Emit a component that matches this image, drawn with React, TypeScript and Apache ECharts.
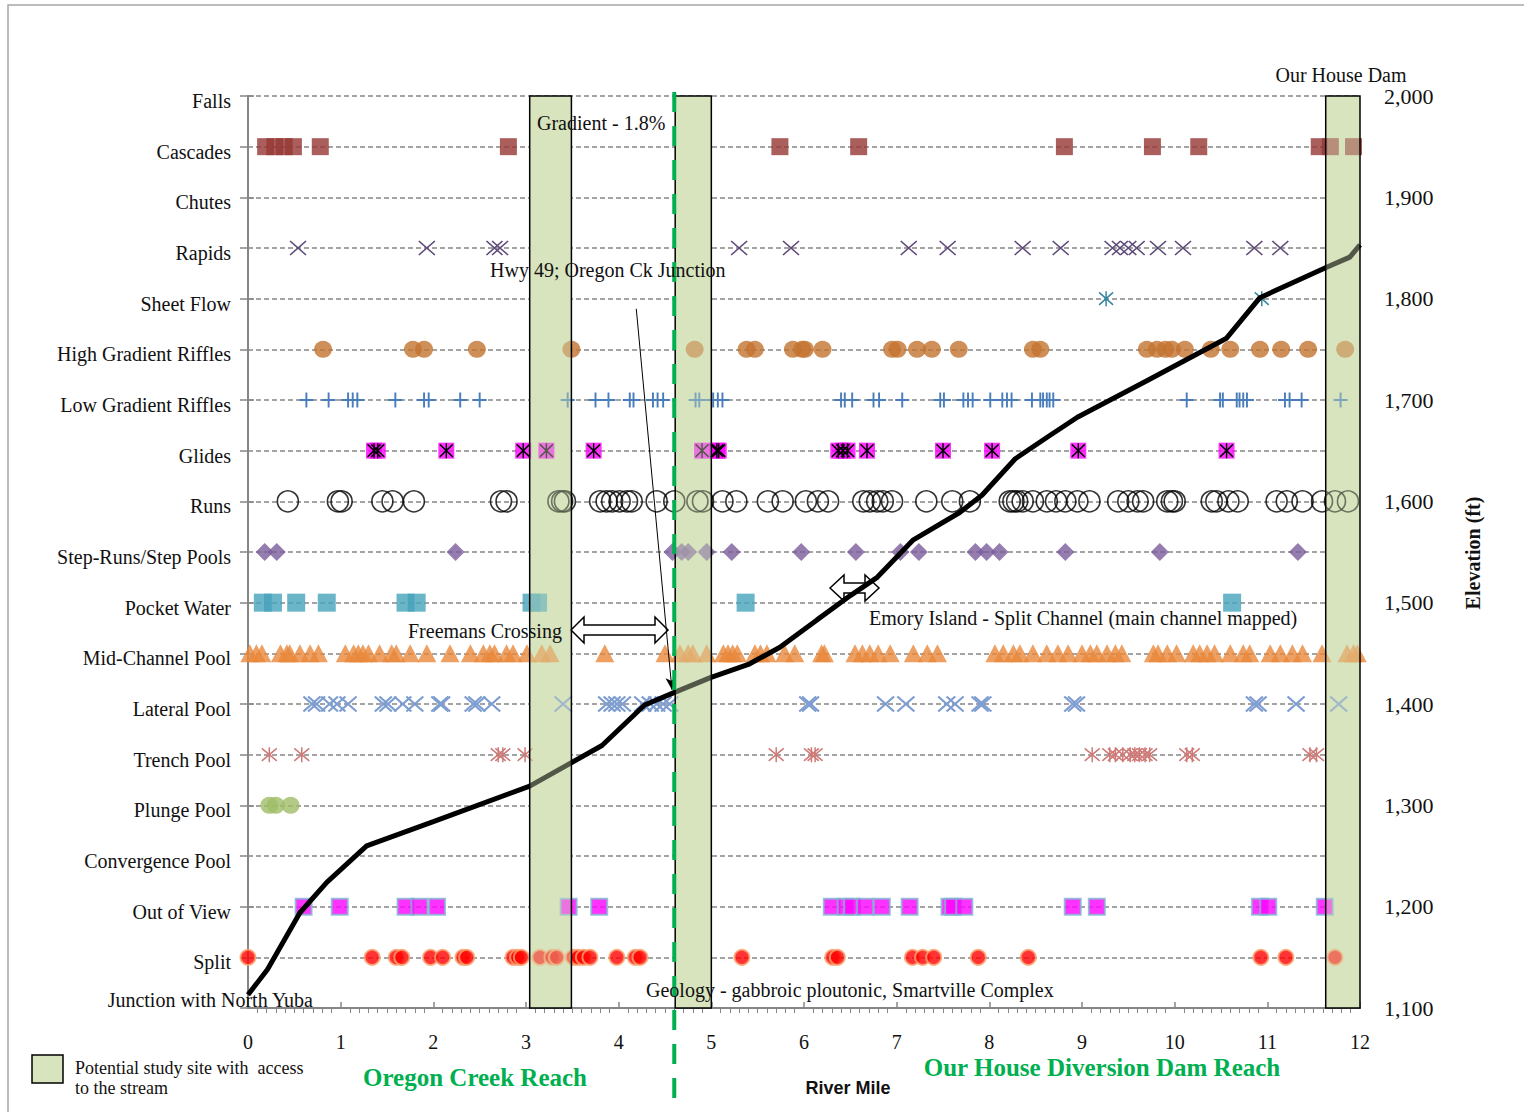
import React, { useEffect, useRef } from 'react';
import * as echarts from 'echarts';

// ---------- data ----------
const habitatTypes = [
  'Falls', 'Cascades', 'Chutes', 'Rapids', 'Sheet Flow', 'High Gradient Riffles',
  'Low Gradient Riffles', 'Glides', 'Runs', 'Step-Runs/Step Pools', 'Pocket Water',
  'Mid-Channel Pool', 'Lateral Pool', 'Trench Pool', 'Plunge Pool', 'Convergence Pool',
  'Out of View', 'Split',
];
const habitatElev = [2000, 1950, 1900, 1850, 1800, 1750, 1700, 1650, 1600, 1550, 1500, 1450, 1400, 1350, 1300, 1250, 1200, 1150];
const levelOf = (name: string) => habitatElev[habitatTypes.indexOf(name)];

const cascades = [0.19, 0.29, 0.39, 0.49, 0.78, 2.81, 5.74, 6.59, 8.81, 9.76, 10.26, 11.56, 11.68, 11.93];
const rapids = [0.54, 1.93, 2.66, 2.72, 5.30, 5.86, 7.13, 7.55, 8.36, 8.77, 9.33, 9.41, 9.50, 9.59, 9.82, 10.09, 10.86, 11.14];
const sheetFlow = [9.26, 10.94];
const highGradientRiffles = [0.81, 1.78, 1.90, 2.47, 3.49, 4.82, 5.38, 5.47, 5.88, 5.98, 6.01, 6.20, 6.95, 7.01, 7.22, 7.38, 7.67, 8.47, 8.55, 9.70, 9.81, 9.90, 9.97, 10.11, 10.39, 10.60, 10.92, 11.15, 11.44, 11.84];
const lowGradientRiffles = [0.63, 0.87, 1.08, 1.13, 1.18, 1.59, 1.90, 1.95, 2.29, 2.50, 3.45, 3.75, 3.89, 4.12, 4.16, 4.37, 4.42, 4.48, 4.83, 4.87, 5.02, 5.07, 5.12, 6.40, 6.44, 6.52, 6.75, 6.81, 7.06, 7.47, 7.51, 7.72, 7.77, 7.82, 8.01, 8.14, 8.19, 8.24, 8.46, 8.55, 8.58, 8.62, 8.65, 8.69, 10.13, 10.49, 10.52, 10.67, 10.70, 10.74, 10.78, 11.19, 11.24, 11.37, 11.79];
const glides = [1.36, 1.40, 2.14, 2.97, 3.22, 3.73, 4.90, 5.06, 5.08, 6.37, 6.42, 6.47, 6.68, 7.50, 8.03, 8.96, 10.56];
const runs = [0.43, 0.97, 1.01, 1.45, 1.56, 1.79, 2.73, 2.79, 3.35, 3.39, 3.42, 3.80, 3.87, 3.93, 4.01, 4.09, 4.14, 4.41, 4.60, 4.85, 4.91, 5.12, 5.27, 5.61, 5.77, 6.02, 6.15, 6.26, 6.64, 6.71, 6.79, 6.85, 6.95, 7.32, 7.60, 7.79, 8.22, 8.26, 8.30, 8.36, 8.47, 8.62, 8.72, 8.82, 8.95, 9.08, 9.39, 9.50, 9.60, 9.66, 9.92, 9.97, 10.00, 10.40, 10.45, 10.58, 10.68, 11.10, 11.21, 11.38, 11.59, 11.73, 11.87];
const stepPools = [0.18, 0.31, 2.24, 4.58, 4.68, 4.75, 4.95, 5.22, 5.97, 6.56, 7.04, 7.24, 7.85, 7.97, 8.11, 8.82, 9.84, 11.33];
const pocketWater = [0.16, 0.27, 0.52, 0.85, 1.70, 1.82, 3.06, 3.13, 5.37, 10.62];
const midChannelPool = [0.02, 0.09, 0.15, 0.35, 0.42, 0.45, 0.56, 0.67, 0.76, 1.05, 1.14, 1.19, 1.24, 1.30, 1.42, 1.55, 1.60, 1.75, 1.93, 2.18, 2.40, 2.54, 2.61, 2.66, 2.79, 2.86, 3.01, 3.17, 3.26, 3.85, 4.50, 4.66, 4.75, 4.80, 4.95, 5.13, 5.18, 5.23, 5.28, 5.47, 5.53, 5.60, 5.79, 5.90, 6.19, 6.22, 6.55, 6.63, 6.71, 6.80, 6.93, 7.18, 7.33, 7.44, 8.06, 8.15, 8.26, 8.33, 8.47, 8.62, 8.74, 8.85, 9.00, 9.09, 9.16, 9.27, 9.36, 9.43, 9.77, 9.82, 9.92, 10.02, 10.20, 10.27, 10.35, 10.43, 10.60, 10.74, 10.81, 11.03, 11.14, 11.27, 11.38, 11.59, 11.86, 11.93, 11.97];
const lateralPool = [0.69, 0.74, 0.88, 0.96, 1.08, 1.46, 1.51, 1.67, 1.80, 2.07, 2.09, 2.43, 2.47, 2.63, 3.40, 3.87, 3.93, 3.98, 4.04, 4.26, 4.34, 4.41, 4.48, 4.55, 6.04, 6.07, 6.88, 7.10, 7.54, 7.63, 7.90, 7.93, 8.90, 8.94, 10.86, 10.90, 11.31, 11.77];
const trenchPool = [0.23, 0.58, 2.70, 2.75, 2.99, 5.70, 6.08, 6.12, 9.11, 9.30, 9.36, 9.44, 9.52, 9.57, 9.62, 9.68, 9.73, 10.13, 10.19, 11.46, 11.53];
const plungePool = [0.23, 0.30, 0.46];
const outOfView = [0.60, 0.99, 1.70, 1.85, 2.04, 3.46, 3.79, 6.30, 6.45, 6.52, 6.66, 6.84, 7.14, 7.57, 7.61, 7.73, 8.90, 9.16, 10.92, 11.01, 11.62];
const split = [0.00, 1.34, 1.60, 1.66, 1.97, 2.10, 2.32, 2.36, 2.86, 2.91, 2.95, 3.15, 3.28, 3.33, 3.51, 3.56, 3.62, 3.69, 3.98, 4.18, 4.23, 5.33, 6.31, 6.36, 7.17, 7.28, 7.40, 7.88, 8.42, 10.93, 11.20, 11.73];

const elevMiles = [0, 0.21, 0.56, 0.85, 1.28, 2.00, 3.04, 3.82, 4.28, 4.59, 4.99, 5.40, 5.74, 6.14, 6.50, 6.79, 7.18, 7.68, 7.92, 8.28, 8.62, 8.95, 9.70, 10.56, 10.92, 11.64, 11.89, 12.0];
const elevFeet = [1113, 1138, 1194, 1224, 1260, 1284, 1319, 1359, 1399, 1411, 1426, 1439, 1456, 1483, 1507, 1525, 1562, 1589, 1606, 1642, 1663, 1683, 1719, 1761, 1801, 1831, 1841, 1853];

const studySites = [[3.04, 3.49], [4.61, 5.0], [11.63, 12.0]];
const reachBoundary = [4.6];
const hwyPointerFrom = [4.19, 1790];
const hwyPointerTo = [4.575, 1414];

// ---------- styling helpers ----------
const SERIF = "'Liberation Serif', 'Times New Roman', serif";
const X_PATH = 'path://M0,0L10,10M10,0L0,10';
const STAR_PATH = 'path://M0,0L10,10M10,0L0,10M5,-1L5,11';
const PLUS_PATH = 'path://M0,5L10,5M5,0L5,10';
const GRID_GRAY = '#868686';

function scatter(name: string, miles: number[], symbol: string, size: any, itemStyle: any, z = 3) {
  return {
    type: 'scatter',
    name,
    data: miles.map((m) => [m, levelOf(name)]),
    symbol,
    symbolSize: size,
    itemStyle,
    z,
    silent: true,
    clip: false,
  };
}

const strokeStyle = (c: string, w = 1.5) => ({ color: 'none', borderColor: c, borderWidth: w, opacity: 1 });

function boxSeries(fill: string, stroke: string | null, z: number) {
  return {
    type: 'custom',
    silent: true,
    z,
    data: studySites,
    renderItem: (_params: any, api: any) => {
      const p1 = api.coord([api.value(0), 2000]);
      const p2 = api.coord([api.value(1), 1100]);
      return {
        type: 'rect',
        shape: { x: p1[0], y: p1[1], width: p2[0] - p1[0], height: p2[1] - p1[1] },
        style: { fill, stroke: stroke || 'none', lineWidth: stroke ? 1.5 : 0 },
      };
    },
  };
}

const App = () => {
  const ref = useRef<HTMLDivElement>(null);
  useEffect(() => {
    if (!ref.current) return;
    const chart = echarts.init(ref.current, null, { renderer: 'svg' });

    const text = (t: string, x: number, y: number, extra: any = {}) => ({
      type: 'text',
      x,
      y,
      z: 20,
      silent: true,
      style: {
        text: t,
        fill: '#111',
        font: `20px ${SERIF}`,
        textAlign: 'left',
        textVerticalAlign: 'middle',
        align: 'left',
        verticalAlign: 'middle',
        ...extra,
      },
    });

    const option: any = {
      animation: false,
      grid: { left: 248, top: 96, width: 1112, height: 912, containLabel: false },
      xAxis: [
        {
          type: 'value',
          position: 'bottom',
          min: 0,
          max: 12,
          interval: 1,
          axisLine: { lineStyle: { color: GRID_GRAY, width: 2 } },
          axisTick: { inside: true, length: 6, lineStyle: { color: GRID_GRAY, width: 1.5 } },
          axisLabel: { margin: 24, fontSize: 20, color: '#111', fontFamily: SERIF },
          splitLine: { show: false },
        },
        {
          type: 'value',
          position: 'bottom',
          min: 0,
          max: 12,
          interval: 1,
          axisLine: { show: false },
          axisTick: { show: false },
          axisLabel: { show: false },
          minorTick: { show: true, splitNumber: 10, length: 5, lineStyle: { color: GRID_GRAY, width: 1 } },
          splitLine: { show: false },
        },
      ],
      yAxis: [
        {
          type: 'value',
          position: 'left',
          min: 1100,
          max: 2000,
          interval: 50,
          axisLine: { show: true, lineStyle: { color: GRID_GRAY, width: 2 } },
          axisTick: { show: true, length: 8, lineStyle: { color: GRID_GRAY, width: 1.5 } },
          axisLabel: {
            margin: 17,
            fontSize: 20,
            color: '#111',
            fontFamily: SERIF,
            verticalAlign: 'top',
            lineHeight: 10,
            formatter: (v: number) => {
              const i = habitatElev.indexOf(v);
              return i >= 0 ? habitatTypes[i] : '';
            },
          },
          splitLine: { show: true, lineStyle: { color: GRID_GRAY, width: 1.5, type: [5, 3] } },
        },
        {
          type: 'value',
          position: 'right',
          min: 1100,
          max: 2000,
          interval: 100,
          axisLine: { show: true, lineStyle: { color: GRID_GRAY, width: 1.5 } },
          axisTick: { show: true, length: 6, lineStyle: { color: GRID_GRAY, width: 1.5 } },
          axisLabel: {
            margin: 24,
            fontSize: 22,
            color: '#111',
            fontFamily: SERIF,
            formatter: (v: number) => v.toLocaleString('en-US'),
          },
          splitLine: { show: false },
        },
      ],
      series: [
        boxSeries('#d7e4bd', null, 1),
        scatter('Cascades', cascades, 'rect', 17, { color: '#953735' }),
        scatter('Rapids', rapids, X_PATH, [16, 14], strokeStyle('#5f497a', 1.5)),
        scatter('Sheet Flow', sheetFlow, STAR_PATH, [14, 15], strokeStyle('#31859c', 1.5)),
        scatter('High Gradient Riffles', highGradientRiffles, 'circle', [18, 17], { color: '#c3732f' }),
        scatter('Low Gradient Riffles', lowGradientRiffles, PLUS_PATH, [14, 15], strokeStyle('#4a7ebb', 2)),
        scatter('Glides', glides, 'rect', 16, { color: '#ff00ff' }),
        { ...scatter('Glides', glides, STAR_PATH, [13, 15], strokeStyle('#000', 1.5)), z: 4 },
        scatter('Runs', runs, 'circle', 21, { color: 'transparent', borderColor: '#000', borderWidth: 1.6 }),
        scatter('Step-Runs/Step Pools', stepPools, 'diamond', [18, 18], { color: '#7a5c9c' }),
        scatter('Pocket Water', pocketWater, 'rect', 18, { color: '#46a3bc' }),
        scatter('Mid-Channel Pool', midChannelPool, 'triangle', [19, 18], { color: '#e8883b' }),
        scatter('Lateral Pool', lateralPool, X_PATH, [17, 15], strokeStyle('#7e9ed1', 2)),
        scatter('Trench Pool', trenchPool, STAR_PATH, [15, 15], strokeStyle('#cf7a77', 1.5)),
        scatter('Plunge Pool', plungePool, 'circle', [18, 17], { color: '#9fbd66' }),
        scatter('Out of View', outOfView, 'rect', 16, { color: '#ff00ff', borderColor: '#80b6d0', borderWidth: 2 }),
        scatter('Split', split, 'circle', 15, { color: '#ff0000', borderColor: '#f7a571', borderWidth: 2 }),
        {
          type: 'line',
          name: 'Elevation',
          data: elevMiles.map((m, i) => [m, elevFeet[i]]),
          symbol: 'none',
          lineStyle: { color: '#000', width: 5 },
          z: 5,
          silent: true,
          clip: false,
          markLine: {
            silent: true,
            symbol: ['none', 'arrow'],
            symbolSize: [8, 12],
            label: { show: false },
            lineStyle: { color: '#000', width: 1, type: 'solid' },
            data: [[{ coord: hwyPointerFrom }, { coord: hwyPointerTo }]],
          },
        },
        boxSeries('rgba(215,228,189,0.38)', '#000', 8),
        {
          type: 'custom',
          silent: true,
          z: 9,
          data: reachBoundary.map((m) => [m, 2000]),
          renderItem: (_params: any, api: any) => {
            const top = api.coord([api.value(0), 2000]);
            const bottom = api.coord([api.value(0), 1100]);
            return {
              type: 'line',
              shape: { x1: top[0], y1: top[1] - 4, x2: bottom[0], y2: bottom[1] + 104 },
              style: { stroke: '#00b050', lineWidth: 4, lineDash: [20, 14] },
            };
          },
        },
      ],
      graphic: [
        {
          type: 'rect',
          silent: true,
          z: 0,
          shape: { x: 8, y: 5, width: 1530, height: 1130 },
          style: { fill: 'none', stroke: '#a6a6a6', lineWidth: 1.5 },
        },
        text('Our House Dam', 1341, 75, { textAlign: 'center', align: 'center' }),
        text('Gradient - 1.8%', 537, 123),
        text('Hwy 49; Oregon Ck Junction', 490, 270),
        text('Freemans Crossing', 408, 631),
        text('Emory Island - Split Channel (main channel mapped)', 869, 618),
        text('Geology - gabbroic ploutonic, Smartville Complex', 646, 990),
        text('Junction with North Yuba', 313, 1000, { textAlign: 'right', align: 'right' }),
        {
          type: 'polygon',
          silent: true,
          z: 4,
          shape: {
            points: [[571, 630], [584, 617], [584, 625], [655, 625], [655, 617], [668, 630], [655, 643], [655, 635], [584, 635], [584, 643]],
          },
          style: { fill: '#fff', stroke: '#000', lineWidth: 1.5 },
        },
        {
          type: 'polygon',
          silent: true,
          z: 4,
          shape: {
            points: [[830, 588], [844, 575], [844, 583], [865, 583], [865, 575], [879, 588], [865, 601], [865, 593], [844, 593], [844, 601]],
          },
          style: { fill: '#fff', stroke: '#000', lineWidth: 1.5 },
        },
        {
          type: 'text',
          silent: true,
          z: 20,
          x: 1473,
          y: 553,
          rotation: Math.PI / 2,
          style: {
            text: 'Elevation (ft)',
            fill: '#111',
            font: `bold 20px ${SERIF}`,
            textAlign: 'center',
            textVerticalAlign: 'middle',
            align: 'center',
            verticalAlign: 'middle',
          },
        },
        {
          type: 'rect',
          silent: true,
          z: 20,
          shape: { x: 32, y: 1055, width: 31, height: 28 },
          style: { fill: '#d7e4bd', stroke: '#000', lineWidth: 1.5 },
        },
        text('Potential study site with  access', 75, 1068, { font: `18px ${SERIF}` }),
        text('to the stream', 75, 1088, { font: `18px ${SERIF}` }),
        text('Oregon Creek Reach', 475, 1077, { font: `bold 25px ${SERIF}`, fill: '#00b050', textAlign: 'center', align: 'center' }),
        text('Our House Diversion Dam Reach', 1102, 1067, { font: `bold 25px ${SERIF}`, fill: '#00b050', textAlign: 'center', align: 'center' }),
        text('River Mile', 848, 1088, { font: "bold 18px 'Liberation Sans', Arial, sans-serif", textAlign: 'center', align: 'center' }),
      ],
    };

    chart.setOption(option);
    return () => chart.dispose();
  }, []);

  return (
    <div
      ref={ref}
      style={{ position: 'fixed', left: 0, top: 0, width: 1524, height: 1112, background: '#fff' }}
    />
  );
};

export default App;
